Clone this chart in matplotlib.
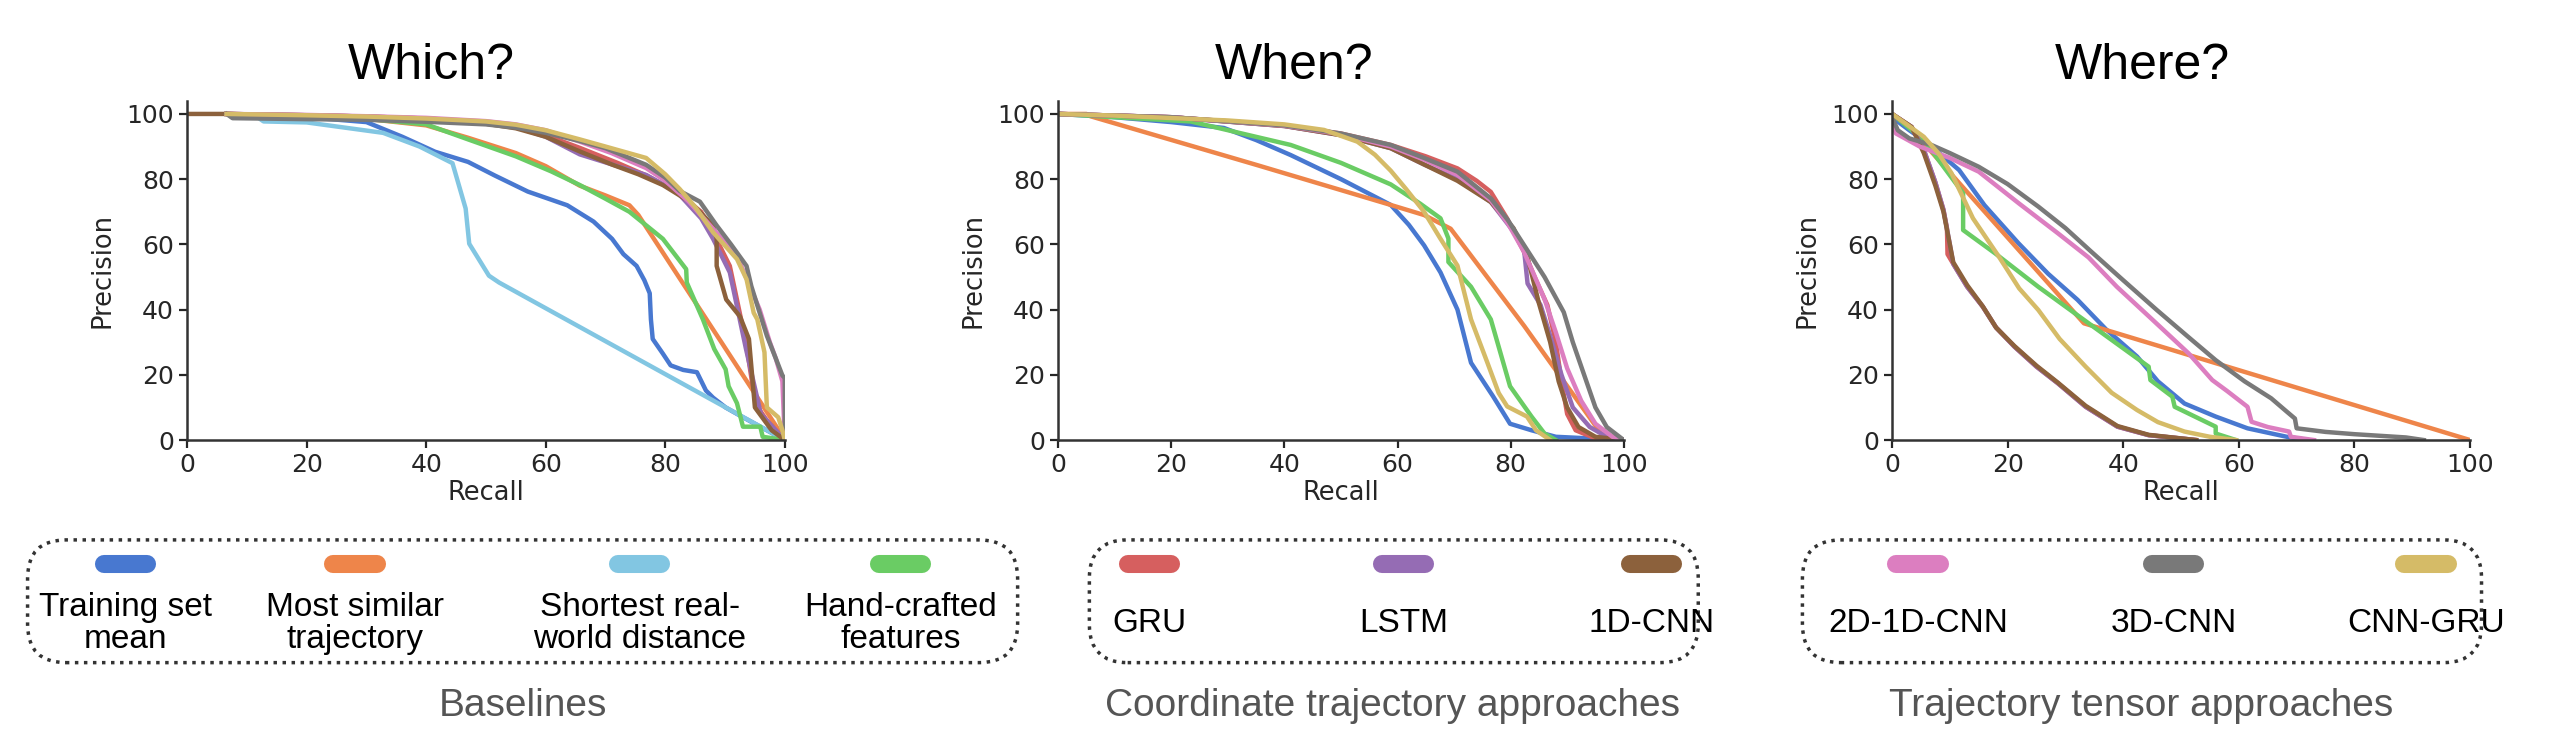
import numpy as np
import matplotlib.pyplot as plt
from matplotlib.lines import Line2D
from matplotlib.patches import FancyBboxPatch

# colours (seaborn "muted")
c_blue = "#4878d0"
c_orange = "#ee854a"
c_green = "#6acc64"
c_red = "#d65f5f"
c_purple = "#956cb4"
c_brown = "#8c613c"
c_pink = "#dc7ec0"
c_gray = "#797979"
c_yellow = "#d5bb67"
c_lblue = "#82c6e2"

titles = ["Which?", "When?", "Where?"]
xticks = [0, 20, 40, 60, 80, 100]
yticks = [0, 20, 40, 60, 80, 100]

# ---- Which? ----
which_blue_r = [6.6, 20, 30, 36, 41.5, 47, 51.5, 57, 63.6, 68, 71.1, 73, 75.2, 76.5, 77.4, 77.6, 77.9, 79.6, 80.9, 83, 85.3, 86.8, 88, 90.1, 93, 96, 99, 100]
which_blue_p = [100, 99, 97.5, 93, 88.4, 85.3, 81.1, 76.2, 72, 67, 61.7, 57, 53.4, 49, 45, 37, 31, 26.5, 22.9, 21.5, 20.8, 15.2, 13, 10, 7, 4, 1, 0]
which_orange_r = [6.6, 20, 30, 40, 47, 55, 60, 65.7, 70, 74, 75.5, 99, 100]
which_orange_p = [100, 99.3, 98.5, 96.5, 92.7, 88, 84, 78, 75, 72, 69, 3, 0]
which_lblue_r = [6.6, 11.6, 12.8, 20, 32.8, 38.9, 44.4, 46.6, 47.2, 50.5, 52.2, 100]
which_lblue_p = [100, 99.2, 97.7, 97.4, 94.2, 90, 84.9, 71, 60.2, 50.4, 48.3, 0]
which_green_r = [6.6, 20, 30, 40, 47, 55, 60.9, 65.7, 70, 74, 79.6, 83.5, 83.6, 86.3, 88.2, 90.1, 90.6, 92, 93, 95.9, 96.3, 100]
which_green_p = [100, 99.3, 98.5, 96.8, 92.2, 87, 82.4, 78.2, 74, 70, 61.7, 52.4, 48.3, 37, 27.9, 21.7, 16.5, 11.3, 4.1, 4.1, 1, 0]
which_red_r = [6.6, 20, 30, 40, 50, 55, 60, 65.7, 72, 77, 82, 86, 88, 90.8, 92, 93.5, 94.5, 95.5, 97, 98.5, 100]
which_red_p = [100, 99.6, 99.2, 98.6, 97.4, 96, 93.5, 89.6, 85, 81, 76, 70, 63.7, 53.4, 43, 30, 18, 10, 6, 3, 0]
which_purple_r = [6.6, 20, 30, 40, 50, 55, 60, 65.7, 72, 76.8, 82, 86, 88, 90.8, 92, 93.5, 94.5, 96, 98, 100]
which_purple_p = [100, 99.6, 99.2, 98.6, 97.4, 96, 93, 87.6, 84, 81.3, 76, 68, 61.7, 51.4, 41, 28, 20, 8, 4, 0]
which_brown_r = [0, 6.6, 20, 30, 40, 50, 55, 60, 65.7, 71.2, 75.5, 79.6, 84.1, 88, 88.6, 88.6, 90.2, 92.5, 94, 95, 97.8, 100]
which_brown_p = [100, 100, 99.6, 99.2, 98.4, 97, 95.6, 93, 88.5, 84.4, 81.5, 78.2, 73.1, 65.8, 61.8, 53.4, 43.1, 37.9, 31, 10, 3, 0]
which_pink_r = [6.6, 20, 30, 40, 50, 55, 60, 65.7, 71, 76.8, 80, 84, 88, 92, 95.8, 97.5, 98.5, 99.6, 100]
which_pink_p = [100, 99.7, 99.3, 98.8, 97.8, 96.8, 95, 91.5, 88, 83.4, 79.5, 73, 64.8, 56.5, 40, 30, 25, 18, 0]
which_gray_r = [6.6, 7.6, 12, 20, 30, 40, 50, 55, 60, 65.7, 70, 76.8, 80, 82.4, 85.8, 88.6, 91, 93.6, 94.4, 95.8, 97, 98.5, 99.6, 100, 100]
which_gray_p = [100, 98.7, 98.6, 98.4, 98.2, 97.6, 96.8, 95.8, 94.2, 91.7, 89.5, 84.4, 80.5, 76.4, 73.1, 65.8, 60, 53.4, 47.2, 39, 32, 25, 19.8, 19, 0]
which_yellow_r = [6.6, 20, 30, 40, 50, 55, 60, 65.7, 70, 76.8, 80, 82.4, 85, 88, 92, 93.6, 94.8, 95.4, 96.6, 97, 98.9, 99.6, 100]
which_yellow_p = [100, 99.6, 99.2, 98.6, 97.7, 96.7, 95, 92.2, 90, 86.5, 81.5, 77, 71.5, 63.7, 55.5, 49.3, 39, 37, 26.9, 10, 7, 3, 0]

# ---- When? ----
when_blue_r = [0, 10, 20, 29.3, 35, 41.1, 50, 58.8, 62, 64.7, 67.6, 70.6, 73, 76.9, 79.9, 83.7, 88, 100]
when_blue_p = [100, 99, 97.5, 95.7, 92, 87.4, 80, 72.1, 66, 59.7, 51.4, 40, 23.7, 13.4, 5, 3, 1, 0]
when_orange_r = [0, 5, 5.7, 35.2, 58.8, 64.7, 69.4, 82.4, 96, 100]
when_orange_p = [100, 100, 99.3, 84.3, 72.1, 69, 64.8, 35, 2, 0]
when_green_r = [0, 10, 23.4, 41.1, 50, 58.8, 64, 67.6, 69, 69, 73, 76.5, 79.9, 83.7, 86, 88]
when_green_p = [100, 99, 97.7, 90.5, 85, 78.4, 72.5, 68, 61.8, 54.6, 47, 37, 16.5, 7.2, 2, 0]
when_yellow_r = [0, 10, 30, 40, 47, 52.9, 56, 58.8, 61.5, 64.7, 67.5, 70.6, 73, 75.9, 77.9, 79.4, 82.9, 84.5, 87]
when_yellow_p = [100, 99.5, 98, 96.8, 95.1, 91.5, 87.5, 82.6, 77, 70, 62, 53.5, 37, 23.7, 14.4, 10.3, 7.2, 3, 0]
when_red_r = [0, 20, 40, 50, 58.8, 65, 70.6, 74, 76.5, 79.4, 82.4, 84.5, 86.5, 88, 89, 90, 91.5, 95, 100]
when_red_p = [100, 99, 96.5, 94, 90.5, 87, 83.3, 79.5, 76.1, 67.9, 57.6, 49, 41.4, 30, 18, 8, 3, 0.5, 0]
when_purple_r = [0, 20, 40, 50, 58.8, 64.7, 70.6, 76.5, 80.5, 82.4, 83, 85.3, 87, 89, 91, 94, 97, 100]
when_purple_p = [100, 99, 96.3, 93.5, 89.5, 84.5, 80, 73, 64, 58, 48, 41.4, 32, 20, 10, 4, 1, 0]
when_brown_r = [0, 20, 40, 50, 58.8, 64.7, 70.6, 76.5, 80.5, 83, 85, 87, 88.5, 90, 92, 95, 100]
when_brown_p = [100, 99, 96.3, 93.5, 89.5, 84.5, 79.5, 73, 65, 56, 42, 30, 18, 10, 4, 1, 0]
when_pink_r = [0, 20, 40, 50, 58.8, 64.7, 70.6, 76.5, 79.5, 82.4, 86, 88, 90, 92.5, 95, 98, 100]
when_pink_p = [100, 99, 96.4, 93.8, 90, 86, 81.3, 73.5, 66.5, 57.6, 43.2, 33, 22, 12, 5, 1, 0]
when_gray_r = [0, 20, 40, 50, 58.8, 64.7, 70.6, 76.5, 79.5, 82.4, 86, 89.4, 91, 93, 95, 97, 100]
when_gray_p = [100, 99, 96.5, 94, 90.5, 86.5, 82.3, 74.1, 67.5, 59.7, 50, 39.2, 30, 20, 10, 4, 0]

# ---- Where? ----
where_blue_r = [0, 3, 6.2, 11.6, 16, 21.9, 27, 32.1, 37, 42.4, 46, 50.6, 56, 61.5, 68.3, 72]
where_blue_p = [99, 95, 91, 82.8, 72, 60.3, 51, 43, 34, 25.6, 18, 11.2, 7.2, 3.6, 1, 0]
where_orange_r = [0, 3, 5.5, 33.2, 100]
where_orange_p = [100, 96, 91, 35.8, 0]
where_green_r = [0, 5.5, 12.3, 12.3, 17.8, 25.3, 34.8, 44.4, 44.7, 48.5, 48.9, 56, 56, 59.5]
where_green_p = [100, 92, 75.7, 64.4, 57.3, 47, 34.8, 22.5, 18.4, 13.3, 10.2, 4.1, 2, 0]
where_red_r = [0, 3.4, 5.5, 7.5, 8.9, 9.5, 9.6, 10.6, 13, 15.7, 18, 21.2, 25, 28.7, 33.5, 39, 44.4, 52.6]
where_red_p = [100, 96, 89, 79, 70.6, 65, 57, 54, 47, 40.9, 34.5, 28.6, 22.5, 17.4, 10.2, 4.1, 1.5, 0]
where_purple_r = [0, 3.4, 5.5, 7.5, 8.9, 10, 10.6, 13, 15.7, 18, 21.2, 25, 28.7, 33.5, 39, 44.4, 52.6]
where_purple_p = [100, 96, 89, 79, 70.6, 60, 54, 47, 40.9, 34.5, 28.6, 22.5, 17.4, 10.2, 4.1, 1.5, 0]
where_brown_r = [0, 3.4, 5.5, 7.5, 8.9, 10, 10.6, 13, 15.7, 18, 21.2, 25, 28.7, 33.5, 39, 44.4, 52.6]
where_brown_p = [100, 96, 88, 78, 70, 60, 54.5, 47.5, 41, 34.5, 28.8, 22.8, 17.6, 10.5, 4.3, 1.6, 0]
where_pink_r = [0, 0.7, 4.8, 10, 15, 22, 28.7, 34, 38.9, 45, 51.3, 55.4, 58, 61.5, 62.2, 65, 68.7, 69, 73]
where_pink_p = [97, 94, 90, 86.5, 82.3, 72.5, 63.4, 56, 47, 37, 26.6, 18.4, 15, 10.2, 5.6, 4, 2.6, 1, 0]
where_gray_r = [0, 1, 3, 6.8, 10, 15, 20, 25.3, 30, 34.2, 40, 45.8, 51, 56, 61, 65.6, 68.3, 69.7, 70, 75, 80, 88.9, 92]
where_gray_p = [99, 95, 92.5, 90.5, 88, 83.8, 78.5, 71.6, 65, 58.2, 49, 39.9, 32, 24.5, 18, 12.8, 8.7, 6.6, 3.6, 2.5, 1.8, 0.8, 0]
where_yellow_r = [0, 2, 5.5, 8, 10.3, 14, 18.5, 22, 25.3, 29, 33.5, 38, 42.4, 46, 50.6, 55, 59.5]
where_yellow_p = [100, 97.5, 93, 88, 81.8, 68, 56.2, 46.5, 39.9, 31, 22.5, 14.5, 9.2, 5.5, 2.6, 1, 0]

panels = [
    [(which_blue_r, which_blue_p, c_blue), (which_orange_r, which_orange_p, c_orange),
     (which_lblue_r, which_lblue_p, c_lblue), (which_green_r, which_green_p, c_green),
     (which_red_r, which_red_p, c_red), (which_purple_r, which_purple_p, c_purple),
     (which_brown_r, which_brown_p, c_brown), (which_pink_r, which_pink_p, c_pink),
     (which_gray_r, which_gray_p, c_gray), (which_yellow_r, which_yellow_p, c_yellow)],
    [(when_blue_r, when_blue_p, c_blue), (when_orange_r, when_orange_p, c_orange),
     (when_green_r, when_green_p, c_green), (when_red_r, when_red_p, c_red),
     (when_purple_r, when_purple_p, c_purple), (when_brown_r, when_brown_p, c_brown),
     (when_pink_r, when_pink_p, c_pink), (when_gray_r, when_gray_p, c_gray),
     (when_yellow_r, when_yellow_p, c_yellow)],
    [(where_blue_r, where_blue_p, c_blue), (where_orange_r, where_orange_p, c_orange),
     (where_green_r, where_green_p, c_green), (where_red_r, where_red_p, c_red),
     (where_purple_r, where_purple_p, c_purple), (where_brown_r, where_brown_p, c_brown),
     (where_pink_r, where_pink_p, c_pink), (where_gray_r, where_gray_p, c_gray),
     (where_yellow_r, where_yellow_p, c_yellow)],
]

# legend groups
groups = ["Baselines", "Coordinate trajectory approaches", "Trajectory tensor approaches"]
leg_labels = [
    ["Training set\nmean", "Most similar\ntrajectory", "Shortest real-\nworld distance", "Hand-crafted\nfeatures"],
    ["GRU", "LSTM", "1D-CNN"],
    ["2D-1D-CNN", "3D-CNN", "CNN-GRU"],
]
leg_colors = [
    [c_blue, c_orange, c_lblue, c_green],
    [c_red, c_purple, c_brown],
    [c_pink, c_gray, c_yellow],
]

fig = plt.figure(figsize=(25.53, 7.53), dpi=100)

ax_pos = [[0.0733, 0.4156, 0.2341, 0.4504],
          [0.4145, 0.4156, 0.2215, 0.4504],
          [0.7411, 0.4156, 0.2264, 0.4504]]
title_x = [0.169, 0.507, 0.839]

for i in range(3):
    ax = fig.add_axes(ax_pos[i])
    for r, p, col in panels[i]:
        ax.plot(r, p, color=col, lw=3.2, solid_joinstyle="round")
    ax.set_xlim(0, 100)
    ax.set_ylim(0, 104)
    ax.set_xticks(xticks)
    ax.set_yticks(yticks)
    ax.spines["top"].set_visible(False)
    ax.spines["right"].set_visible(False)
    for s in ["left", "bottom"]:
        ax.spines[s].set_linewidth(1.8)
        ax.spines[s].set_color("#333333")
    ax.tick_params(labelsize=18, length=6, width=1.6, colors="#262626")
    ax.set_xlabel("Recall", fontsize=18.5, color="#262626", labelpad=2)
    ax.set_ylabel("Precision", fontsize=18.5, color="#262626", labelpad=8)
    fig.text(title_x[i], 0.913, titles[i], fontsize=36, family="Liberation Sans",
             ha="center", va="center")

# legend boxes
box_x = [(0.0108, 0.3986), (0.4267, 0.6652), (0.706, 0.972)]
mark_x = [[0.0491, 0.139, 0.2506, 0.3527],
          [0.4503, 0.5497, 0.6468],
          [0.7513, 0.8514, 0.9503]]
group_x = [0.2047, 0.5453, 0.8387]

for g in range(3):
    x0, x1 = box_x[g]
    box = FancyBboxPatch((x0, 0.12), x1 - x0, 0.163, boxstyle="round,pad=0,rounding_size=0.015",
                         transform=fig.transFigure, fill=False, ec="#333333", lw=2.5,
                         ls=(0, (1, 1.6)), mutation_aspect=3.39)
    fig.patches.append(box)
    for k in range(len(leg_labels[g])):
        mx = mark_x[g][k]
        fig.add_artist(Line2D([mx - 0.0085, mx + 0.0085], [0.251, 0.251], transform=fig.transFigure,
                              color=leg_colors[g][k], lw=13, solid_capstyle="round"))
        fig.text(mx, 0.172, leg_labels[g][k], fontsize=24, family="Liberation Sans",
                 ha="center", va="center", linespacing=1.05)
    fig.text(group_x[g], 0.062, groups[g], fontsize=28, family="Liberation Sans",
             color="#555555", ha="center", va="center")

plt.savefig("out.png", dpi=100)
